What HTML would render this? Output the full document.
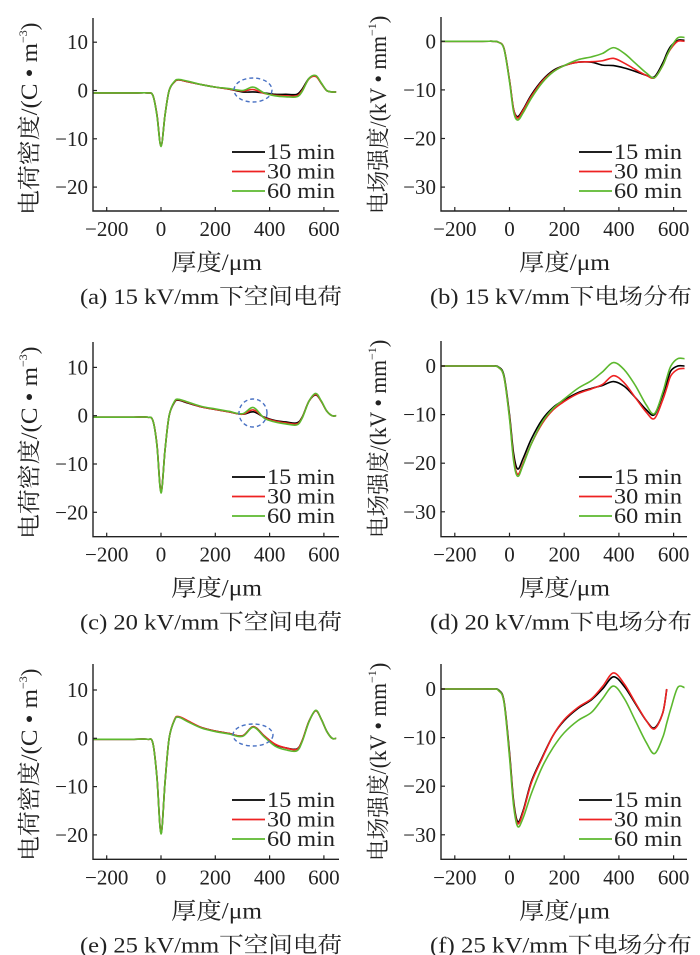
<!DOCTYPE html>
<html><head><meta charset="utf-8">
<style>
html,body{margin:0;padding:0;background:#fff;}
svg{display:block;}
svg text{font-family:"Liberation Serif","Noto Serif CJK SC",serif;}
</style></head>
<body>
<svg id="fig" width="700" height="955" viewBox="0 0 700 955" xmlns="http://www.w3.org/2000/svg" font-family="'Liberation Serif','Noto Serif CJK SC',serif"></svg>
<script>
// ---- data ----
const xCharge = [-250,-100,-50,-30,-15,0,15,30,50,65,100,150,200,250,300,340,380,420,460,500,520,545,570,590,610,630,645];
const xField = [-250,-100,-60,-40,-20,0,15,30,50,80,120,160,200,250,300,340,380,420,460,500,530,560,575,590,615,640];
const seriesNames = ["15 min","30 min","60 min"];
const seriesColors = ["#000000","#ee2222","#5cb82e"];
const xTicks = [-200,0,200,400,600];
const chargeTicks = [10,0,-10,-20];
const fieldTicks = [0,-10,-20,-30];

const a15 = [-0.5,-0.5,-0.5,-1,-5,-11.5,-5,0,1.8,2.2,1.8,1.2,0.7,0.3,-0.3,-0.3,-0.5,-0.8,-0.8,-0.8,0.3,2.5,3,1.5,0,-0.3,-0.3];
const a30 = [-0.5,-0.5,-0.5,-1,-5,-11.5,-5,0,1.8,2.2,1.8,1.2,0.7,0.3,-0.1,0.2,-0.6,-1,-1.1,-1.1,0,2.4,2.9,1.5,0,-0.3,-0.3];
const a60 = [-0.5,-0.5,-0.5,-1,-5.2,-11.6,-5,0,1.9,2.3,1.9,1.2,0.7,0.4,0,0.7,-0.5,-1.1,-1.3,-1.3,-0.2,2.5,3.1,1.6,0,-0.3,-0.3];
const c15 = [-0.3,-0.3,-0.3,-1,-6,-15.7,-7,0,2.8,3.2,2.6,1.8,1.3,0.8,0.3,0.8,-0.3,-1,-1.3,-1.5,-0.3,3,4.3,3,1,0,0];
const c30 = [-0.3,-0.3,-0.3,-1,-6,-15.8,-7,0,2.9,3.3,2.7,1.8,1.3,0.8,0.3,1.2,-0.4,-1.1,-1.5,-1.7,-0.4,3,4.4,3,1,0,0];
const c60 = [-0.3,-0.3,-0.3,-1,-6.2,-16,-7,0,3,3.4,2.8,1.9,1.4,0.9,0.4,1.7,-0.5,-1.3,-1.7,-1.9,-0.5,3,4.6,3.1,1,0,0];
const e15 = [-0.2,-0.2,-0.2,-1,-8,-19.6,-9,0,3.8,4.4,3.5,2.2,1.5,1,0.5,2.4,0.5,-1.3,-2,-2.2,-0.5,3.5,5.7,4,1.5,0,0];
const e30 = [-0.2,-0.2,-0.2,-1,-8,-19.6,-9,0,3.9,4.5,3.6,2.2,1.5,1,0.5,2.4,0.5,-1.2,-2,-2.3,-0.5,3.5,5.7,4,1.5,0,0];
const e60 = [-0.2,-0.2,-0.2,-1,-8.2,-19.8,-9,0,3.8,4.4,3.4,2.1,1.4,0.9,0.4,2.3,0.3,-1.6,-2.4,-2.6,-0.7,3.4,5.8,4,1.5,0,0];
const b15 = [0,0,0,-0.2,-1.5,-8,-14,-15.5,-14,-11,-8,-6,-5,-4.3,-4.3,-4.9,-5,-5.5,-6.2,-7,-7.3,-4.5,-2.5,-1,0.2,0.2];
const b30 = [0,0,0,-0.2,-1.5,-8,-14,-15.8,-14.2,-11.3,-8.2,-6.2,-5,-4.3,-4.2,-4,-3.5,-4.5,-5.8,-7,-7.5,-5,-3,-1.5,0,0];
const b60 = [0,0,0,-0.2,-1.6,-8.3,-14.5,-16.2,-14.7,-11.7,-8.5,-6.3,-5,-3.8,-3.2,-2.5,-1.3,-2.5,-4.5,-6.5,-7.5,-5,-3,-1.3,0.7,0.8];
const d15 = [0,0,0,-0.2,-2,-10,-18,-21.2,-19,-15,-11,-8.5,-7,-5.5,-4.6,-4,-3.2,-4.2,-6.5,-9,-10,-6,-3.5,-1,0,0];
const d30 = [0,0,0,-0.3,-2.3,-10.5,-19,-22.3,-20,-16,-11.8,-9,-7.3,-5.7,-4.7,-3.8,-2,-3.5,-6.5,-9.5,-10.8,-7,-4.5,-2,-0.7,-0.5];
const d60 = [0,0,0,-0.3,-2.3,-10.8,-19.5,-22.7,-20.3,-16,-11.5,-8.7,-6.8,-4.6,-3,-1.2,0.7,-0.8,-4,-8,-9.8,-5.5,-2.5,0,1.5,1.5];
const f15 = [0,0,0,-0.2,-2.5,-13,-23,-27.3,-25,-19,-14,-9.5,-6.5,-4,-2.2,0,2.5,0.5,-3,-6.5,-8,-5,0,null,null,null];
const f30 = [0,0,0,-0.3,-2.7,-13.5,-23.5,-27.7,-25.3,-19.3,-14.2,-9.5,-6.3,-3.8,-2,0.5,3.3,1,-2.8,-6.5,-8.2,-5,0,null,null,null];
const f60 = [0,0,0,-0.3,-2.8,-14,-24,-28.3,-26.5,-21.5,-16,-12,-9,-6.5,-4.8,-2,0.6,-2,-6.5,-11,-13.3,-10,-7,-4,0.3,0.3];

const NS = "http://www.w3.org/2000/svg";
const FONT = "Liberation Serif, Noto Serif CJK SC, serif";
const svg = document.getElementById("fig");
function mk(tag, attrs, parent){const e=document.createElementNS(NS,tag);for(const k in attrs)e.setAttribute(k,attrs[k]);if(tag==="text")e.setAttribute("font-family",FONT);(parent||svg).appendChild(e);return e;}

function smoothPath(pts){
  if(pts.length<2) return "";
  let d="M"+pts[0][0].toFixed(2)+","+pts[0][1].toFixed(2);
  for(let i=0;i<pts.length-1;i++){
    const p0=pts[i-1]||pts[i],p1=pts[i],p2=pts[i+1],p3=pts[i+2]||p2;
    const c1x=p1[0]+(p2[0]-p0[0])/6,c1y=p1[1]+(p2[1]-p0[1])/6;
    const c2x=p2[0]-(p3[0]-p1[0])/6,c2y=p2[1]-(p3[1]-p1[1])/6;
    d+="C"+c1x.toFixed(2)+","+c1y.toFixed(2)+" "+c2x.toFixed(2)+","+c2y.toFixed(2)+" "+p2[0].toFixed(2)+","+p2[1].toFixed(2);
  }
  return d;
}

function panel(cfg){
  const g = mk("g",{});
  
  
  const X = v => cfg.x0 + v*cfg.xs;
  const Y = v => cfg.y0 - v*cfg.ys;
  [0,1,2].forEach(si=>{
    const vals=cfg.series[si];
    const pts=[];
    cfg.xd.forEach((xv,i)=>{ if(vals[i]!==null) pts.push([X(xv),Y(vals[i])]); });
    const p=mk("path",{d:smoothPath(pts),fill:"none",stroke:seriesColors[si],"stroke-width":1.6,"stroke-linejoin":"round"},g);
    
    
  });
  const ax=mk("path",{d:`M${cfg.left},${cfg.top}V${cfg.bottom}H${cfg.right}`,fill:"none",stroke:"#222","stroke-width":1.4},g);
  
  
  xTicks.forEach(t=>{
    const x=X(t);
    mk("line",{x1:x,x2:x,y1:cfg.bottom,y2:cfg.bottom-4,stroke:"#222","stroke-width":1.2},g);
    const tx=mk("text",{x:x,y:cfg.bottom+25,"font-size":21,"text-anchor":"middle",fill:"#222"},g);
    tx.textContent=t<0?"\u2212"+(-t):String(t);
    
    
  });
  cfg.yt.forEach(t=>{
    const y=Y(t);
    mk("line",{x1:cfg.left,x2:cfg.left+4,y1:y,y2:y,stroke:"#222","stroke-width":1.2},g);
    const tx=mk("text",{x:cfg.left-5,y:y+7,"font-size":21,"text-anchor":"end",fill:"#222"},g);
    tx.textContent=t<0?"\u2212"+(-t):String(t);
    
    
  });
  const xt=mk("text",{x:cfg.left+78,y:cfg.bottom+59,"font-size":23,textLength:91,lengthAdjust:"spacingAndGlyphs",fill:"#222"},g);
  xt.textContent="厚度/μm";
  
  
  const yt=mk("text",{transform:`translate(${cfg.ytx},${cfg.top+197}) rotate(-90)`,"font-size":23,fill:"#222"},g);
  
  
  const s1=mk("tspan",{textLength:cfg.ytLen,lengthAdjust:"spacingAndGlyphs"},yt); s1.textContent=cfg.ytitle;
  const s2=mk("tspan",{dy:-10,"font-size":12},yt); s2.textContent=cfg.sup;
  const s3=mk("tspan",{dy:10},yt); s3.textContent=")";
  seriesNames.forEach((n,i)=>{
    const ly=cfg.legY+i*19.5;
    const le=mk("g",{},g);
    
    
    mk("line",{x1:cfg.legX,x2:cfg.legX+33,y1:ly,y2:ly,stroke:seriesColors[i],"stroke-width":1.7},le);
    const t=mk("text",{x:cfg.legX+35,y:ly+7,"font-size":22,textLength:68,lengthAdjust:"spacingAndGlyphs",fill:"#222"},le);
    t.textContent=n;
  });
  if(cfg.ell){
    const el=mk("ellipse",{cx:cfg.ell[0],cy:cfg.ell[1],rx:cfg.ell[2],ry:cfg.ell[3],fill:"none",stroke:"#4a72c4","stroke-width":1.4,"stroke-dasharray":"4,3"},g);
    
    
  }
  const cp=mk("text",{x:cfg.capX,y:cfg.bottom+93,"font-size":22,textLength:262,lengthAdjust:"spacingAndGlyphs",fill:"#222"},g);
  cp.textContent=cfg.caption;
  
  
}

const L={x0:161,xs:54.3/200,left:93,right:339,ys:4.83,ytx:37,xd:xCharge,yt:chargeTicks,ytitle:"电荷密度/(C • m",sup:"−3",ytLen:172,legX:232};
const R={x0:509.5,xs:54.7/200,left:441,right:687,ys:4.86,ytx:386,xd:xField,yt:fieldTicks,ytitle:"电场强度/(kV • mm",sup:"−1",ytLen:178,legX:579};

panel(Object.assign({},L,{name:"chart-a",y0:90.5,top:18,bottom:211,series:[a15,a30,a60],legY:152,ell:[253,90,19,12],capX:80,caption:"(a)  15 kV/mm下空间电荷"}));
panel(Object.assign({},L,{name:"chart-c",y0:415.7,top:342,bottom:536.7,series:[c15,c30,c60],legY:477,ell:[253,413,14,14],capX:80,caption:"(c)  20 kV/mm下空间电荷"}));
panel(Object.assign({},L,{name:"chart-e",y0:738.3,top:664,bottom:859.3,series:[e15,e30,e60],legY:800,ell:[253,735,20,11],capX:80,caption:"(e)  25 kV/mm下空间电荷"}));
panel(Object.assign({},R,{name:"chart-b",y0:41.3,top:17,bottom:211,series:[b15,b30,b60],legY:152,capX:430,caption:"(b)  15 kV/mm下电场分布"}));
panel(Object.assign({},R,{name:"chart-d",y0:366,top:341,bottom:536.7,series:[d15,d30,d60],legY:477,capX:430,caption:"(d)  20 kV/mm下电场分布"}));
panel(Object.assign({},R,{name:"chart-f",y0:689,top:664,bottom:859.3,series:[f15,f30,f60],legY:800,capX:430,caption:"(f)  25 kV/mm下电场分布"}));
</script>
</body></html>
